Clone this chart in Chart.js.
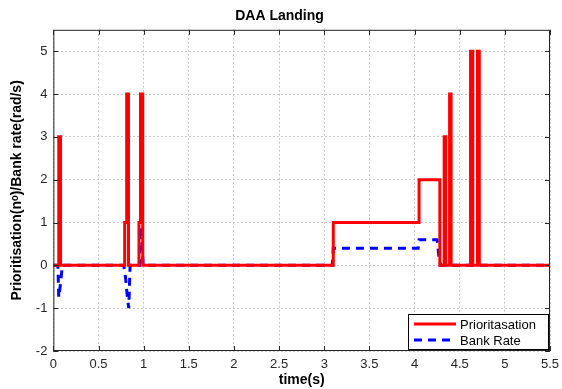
<!DOCTYPE html>
<html>
<head>
<meta charset="utf-8">
<script src="https://cdn.jsdelivr.net/npm/chart.js@4/dist/chart.umd.min.js"></script>
<style>
  html, body { margin: 0; padding: 0; background: #fff; }
  #wrap { width: 562px; height: 389px; }
</style>
</head>
<body>
<div id="wrap"><canvas id="daaChart" width="562" height="389"></canvas></div>
<script>
// Prioritisation (red step line)
const prioTime = [0, 0.06, 0.06, 0.08, 0.08, 0.79, 0.79, 0.812, 0.812, 0.832, 0.832,
    0.948, 0.948, 0.965, 0.965, 0.99, 0.99, 3.1, 3.1, 4.05, 4.05, 4.28, 4.28,
    4.328, 4.328, 4.345, 4.345, 4.388, 4.388, 4.405, 4.405, 4.62, 4.62, 4.645, 4.645,
    4.697, 4.697, 4.717, 4.717, 5.5];
const prioValues = [0, 0, 3, 3, 0, 0, 1, 1, 4, 4, 0,
    0, 1, 1, 4, 4, 0, 0, 1, 1, 2, 2, 0,
    0, 3, 3, 0, 0, 4, 4, 0, 0, 5, 5, 0,
    0, 5, 5, 0, 0];

// Bank rate (blue dashed)
const bankTime = [0, 0.05, 0.06, 0.075, 0.09, 0.1, 0.78, 0.8, 0.82, 0.835, 0.85,
    0.955, 0.965, 0.975, 0.985, 0.995, 3.09, 3.1, 4.04, 4.05, 4.25, 4.27, 4.29, 5.5];
const bankValues = [0, 0, -0.75, -0.5, -0.2, 0, 0, -0.3, -0.75, -1.0, 0,
    0, 0.9, 0.6, 0.4, 0, 0, 0.4, 0.4, 0.6, 0.6, 0.2, 0, 0];

const xTicks = [0, 0.5, 1, 1.5, 2, 2.5, 3, 3.5, 4, 4.5, 5, 5.5];
const yTicks = [-2, -1, 0, 1, 2, 3, 4, 5];

const toPoints = (xs, ys) => xs.map((x, i) => ({ x: x, y: ys[i] }));

// Legend box inside the plot + frame with inward ticks
const frameAndLegend = {
    id: 'frameAndLegend',
    afterDraw(chart) {
        const ctx = chart.ctx;
        const a = chart.chartArea;
        const xs = chart.scales.x, ys = chart.scales.y;
        ctx.save();
        ctx.strokeStyle = '#262626';
        ctx.lineWidth = 1;
        ctx.strokeRect(a.left + 0.5, a.top + 0.5, a.right - a.left - 1, a.bottom - a.top - 1);
        ctx.beginPath();
        xTicks.forEach(v => {
            const px = Math.round(xs.getPixelForValue(v)) + 0.5;
            ctx.moveTo(px, a.bottom); ctx.lineTo(px, a.bottom - 5);
            ctx.moveTo(px, a.top); ctx.lineTo(px, a.top + 5);
        });
        yTicks.forEach(v => {
            const py = Math.round(ys.getPixelForValue(v)) + 0.5;
            ctx.moveTo(a.left, py); ctx.lineTo(a.left + 5, py);
            ctx.moveTo(a.right, py); ctx.lineTo(a.right - 5, py);
        });
        ctx.stroke();

        // legend
        const bx = a.right - 142, by = a.bottom - 37, bw = 141, bh = 36;
        ctx.fillStyle = '#fff';
        ctx.fillRect(bx, by, bw, bh);
        ctx.strokeStyle = '#000';
        ctx.strokeRect(bx + 0.5, by + 0.5, bw - 1, bh - 1);
        ctx.font = '13px "Liberation Sans", Arial, sans-serif';
        ctx.textBaseline = 'middle';
        chart.data.datasets.forEach((ds, i) => {
            const ly = by + 10 + i * 16;
            ctx.beginPath();
            ctx.strokeStyle = ds.borderColor;
            ctx.lineWidth = ds.borderWidth;
            ctx.setLineDash(ds.borderDash || []);
            ctx.moveTo(bx + 6, ly); ctx.lineTo(bx + 48, ly);
            ctx.stroke();
            ctx.setLineDash([]);
            ctx.fillStyle = '#000';
            ctx.fillText(ds.label, bx + 52, ly + 1);
        });
        ctx.restore();
    }
};

const ctx = document.getElementById('daaChart').getContext('2d');
new Chart(ctx, {
    type: 'line',
    data: {
        datasets: [{
            label: 'Prioritasation',
            data: toPoints(prioTime, prioValues),
            borderColor: '#ff0000',
            borderWidth: 3,
            pointRadius: 0,
            tension: 0,
            fill: false
        }, {
            label: 'Bank Rate',
            data: toPoints(bankTime, bankValues),
            borderColor: '#0000ff',
            borderWidth: 3,
            borderDash: [8, 6],
            pointRadius: 0,
            tension: 0,
            fill: false
        }]
    },
    options: {
        responsive: false,
        animation: false,
        layout: { padding: { left: 9, right: 12, top: 0, bottom: 0 } },
        plugins: {
            legend: { display: false },
            tooltip: { enabled: false },
            title: {
                display: true,
                text: 'DAA Landing',
                color: '#000',
                font: { family: '"Liberation Sans", Arial, sans-serif', size: 14, weight: 'bold' },
                padding: { top: 8, bottom: 5 }
            }
        },
        scales: {
            x: {
                type: 'linear',
                min: 0,
                max: 5.5,
                afterBuildTicks: s => { s.ticks = xTicks.map(v => ({ value: v })); },
                afterFit: s => { s.height = 38; s.paddingRight = 0; s.paddingLeft = 0; },
                ticks: {
                    color: '#262626',
                    font: { family: '"Liberation Sans", Arial, sans-serif', size: 13 },
                    padding: 6,
                    maxRotation: 0,
                    callback: v => String(v)
                },
                grid: { color: '#c8c8c8', lineWidth: 1, drawTicks: false, tickLength: 0 },
                border: { display: false, dash: [2, 2] },
                title: {
                    display: true,
                    text: 'time(s)',
                    color: '#000',
                    font: { family: '"Liberation Sans", Arial, sans-serif', size: 14, weight: 'bold' },
                    padding: { top: 0, bottom: 0 }
                }
            },
            y: {
                type: 'linear',
                min: -2,
                max: 5.5,
                afterBuildTicks: s => { s.ticks = yTicks.map(v => ({ value: v })); },
                ticks: {
                    color: '#262626',
                    font: { family: '"Liberation Sans", Arial, sans-serif', size: 13 },
                    padding: 6,
                    callback: v => String(v)
                },
                grid: { color: '#c8c8c8', lineWidth: 1, drawTicks: false, tickLength: 0 },
                border: { display: false, dash: [2, 2] },
                title: {
                    display: true,
                    text: 'Prioritisation(nᵒ)/Bank rate(rad/s)',
                    color: '#000',
                    font: { family: '"Liberation Sans", Arial, sans-serif', size: 14, weight: 'bold' },
                    padding: { top: 0, bottom: 4 }
                }
            }
        }
    },
    plugins: [frameAndLegend]
});
</script>
</body>
</html>
